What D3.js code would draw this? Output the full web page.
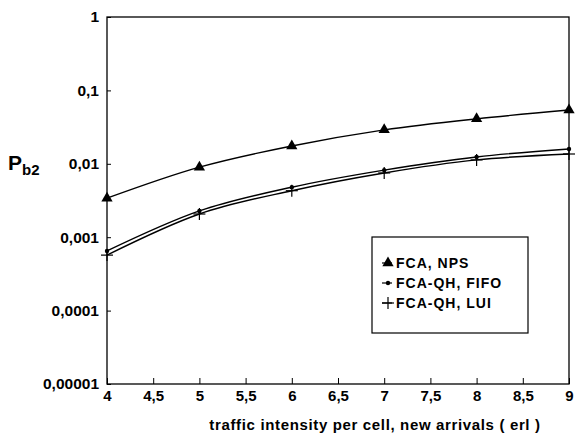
<!DOCTYPE html>
<html>
<head>
<meta charset="utf-8">
<script src="https://cdn.jsdelivr.net/npm/d3@7"></script>
<style>
  body { margin: 0; background: #fff; }
  svg { font-family: "Liberation Sans", Arial, sans-serif; font-weight: bold; }
</style>
</head>
<body>
<div id="vis"></div>
<script>
// traffic intensity (erl)
var traffic = [4, 5, 6, 7, 8, 9];

// blocking probability Pb2
var fcaNps   = [0.0034, 0.0090, 0.0175, 0.029, 0.041, 0.054];
var fifo     = [0.00065, 0.00228, 0.0048, 0.0082, 0.0124, 0.0159];
var lui      = [0.00057, 0.00207, 0.0043, 0.0075, 0.0113, 0.0136];

var xTicks = [4, 4.5, 5, 5.5, 6, 6.5, 7, 7.5, 8, 8.5, 9];
var yTicks = [1, 0.1, 0.01, 0.001, 0.0001, 0.00001];
var yLabels = ["1", "0,1", "0,01", "0,001", "0,0001", "0,00001"];

var seriesNames = ["FCA, NPS", "FCA-QH, FIFO", "FCA-QH, LUI"];

var width = 576, height = 444;
var margin = {top: 17, right: 7, bottom: 60, left: 107};
var iw = width - margin.left - margin.right,
    ih = height - margin.top - margin.bottom;

var svg = d3.select("#vis").append("svg")
    .attr("width", width)
    .attr("height", height);

var g = svg.append("g").attr("transform", "translate(" + margin.left + "," + margin.top + ")");

var x = d3.scaleLinear().domain([4, 9]).range([0, iw]);
var y = d3.scaleLog().domain([0.00001, 1]).range([ih, 0]);

// frame
g.append("rect")
    .attr("width", iw)
    .attr("height", ih)
    .attr("fill", "none")
    .attr("stroke", "#000")
    .attr("stroke-width", 1.3);

// x axis, ticks pointing inward
var xAxis = g.append("g")
    .attr("transform", "translate(0," + ih + ")")
    .call(d3.axisBottom(x).tickValues(xTicks).tickSize(-6).tickPadding(6)
      .tickFormat(function(d) { return String(d).replace(".", ","); }));
xAxis.select(".domain").remove();
xAxis.selectAll("text").attr("font-size", 15).attr("font-weight", "bold").attr("fill", "#000");

// y axis
var yAxis = g.append("g")
    .call(d3.axisLeft(y).tickValues(yTicks).tickSize(-4).tickPadding(8)
      .tickFormat(function(d, i) { return yLabels[i]; }));
yAxis.select(".domain").remove();
yAxis.selectAll("text").attr("font-size", 15.5).attr("font-weight", "bold").attr("fill", "#000");

// axis titles
svg.append("text")
    .attr("x", 375)
    .attr("y", 430)
    .attr("text-anchor", "middle")
    .attr("font-size", 15)
    .attr("letter-spacing", 0.65)
    .text("traffic intensity per cell, new arrivals ( erl )");

var pt = svg.append("text")
    .attr("x", 8)
    .attr("y", 170)
    .attr("font-size", 21);
pt.append("tspan").text("P");
pt.append("tspan").attr("font-size", 15).attr("dy", 5).text("b2");

// curves
var line = d3.line()
    .x(function(d) { return x(d[0]); })
    .y(function(d) { return y(d[1]); })
    .curve(d3.curveMonotoneX);

var allSeries = [fcaNps, fifo, lui];
allSeries.forEach(function(vals) {
  g.append("path")
      .datum(traffic.map(function(t, i) { return [t, vals[i]]; }))
      .attr("d", line)
      .attr("fill", "none")
      .attr("stroke", "#000")
      .attr("stroke-width", 1.4);
});

var tri = d3.symbol().type(d3.symbolTriangle).size(55);

function drawMarker(sel, kind) {
  if (kind === 0) {
    sel.append("path").attr("d", tri).attr("fill", "#000");
  } else if (kind === 1) {
    sel.append("circle").attr("r", 2.2).attr("fill", "#000");
  } else {
    sel.append("line").attr("x1", -6).attr("x2", 6).attr("stroke", "#000").attr("stroke-width", 1.2);
    sel.append("line").attr("y1", -6).attr("y2", 6).attr("stroke", "#000").attr("stroke-width", 1.2);
  }
}

allSeries.forEach(function(vals, k) {
  traffic.forEach(function(t, i) {
    var m = g.append("g").attr("transform", "translate(" + x(t) + "," + y(vals[i]) + ")");
    drawMarker(m, k);
  });
});

// legend
var legend = g.append("g").attr("transform", "translate(" + (372 - margin.left) + "," + (237 - margin.top) + ")");
legend.append("rect")
    .attr("width", 156)
    .attr("height", 96)
    .attr("fill", "#fff")
    .attr("stroke", "#000")
    .attr("stroke-width", 1.2);

seriesNames.forEach(function(name, k) {
  var row = legend.append("g").attr("transform", "translate(16," + (26 + k * 20) + ")");
  row.append("line").attr("x1", -6).attr("x2", 4).attr("stroke", "#000").attr("stroke-width", 1.2);
  drawMarker(row, k);
  row.append("text")
      .attr("x", 8)
      .attr("dy", "0.35em")
      .attr("font-size", 14)
      .attr("letter-spacing", 1)
      .text(name);
});
</script>
</body>
</html>
